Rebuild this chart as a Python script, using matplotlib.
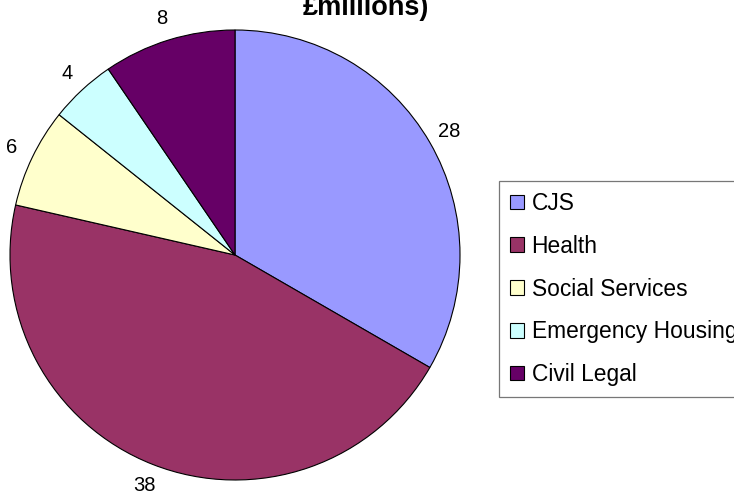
import matplotlib
matplotlib.use("Agg")
import matplotlib.pyplot as plt

plt.rcParams['font.family'] = ['Liberation Sans', 'DejaVu Sans']

categories = ["CJS", "Health", "Social Services", "Emergency Housing", "Civil Legal"]
values = [28, 38, 6, 4, 8]
colors = ["#9999FF", "#993366", "#FFFFCC", "#CCFFFF", "#660066"]
title_text = "£millions)"

W, H = 734, 497
fig = plt.figure(figsize=(W / 100, H / 100), dpi=100)
fig.patch.set_facecolor("white")

cx, cy, r = 235, 255, 225
ax = fig.add_axes([(cx - r) / W, (H - cy - r) / H, 2 * r / W, 2 * r / H])
wedges, texts = ax.pie(values, labels=[str(v) for v in values], colors=colors,
                       startangle=90, counterclock=False, radius=1.0,
                       labeldistance=1.1,
                       wedgeprops=dict(edgecolor="black", linewidth=0.8),
                       textprops=dict(fontsize=14.5, color="black", ha="center", va="center"))
ax.set_xlim(-1, 1)
ax.set_ylim(-1, 1)
ax.set_aspect("equal")
ax.axis("off")
for t in texts:
    t.set_clip_on(False)

fig.text(366 / W, 1 - 15 / H, title_text, ha="center", va="baseline",
         fontsize=19.5, fontweight="bold")

leg = fig.legend(wedges, categories, loc="upper left",
                 bbox_to_anchor=(499 / W, 1 - 181 / H), fontsize=16.4,
                 frameon=True, fancybox=False, edgecolor="#555555",
                 handlelength=0.6, handleheight=0.6, handletextpad=0.35,
                 labelspacing=0.87, borderpad=0.48, borderaxespad=0.0)
leg.get_frame().set_linewidth(0.9)

fig.savefig("out.png", dpi=100)
